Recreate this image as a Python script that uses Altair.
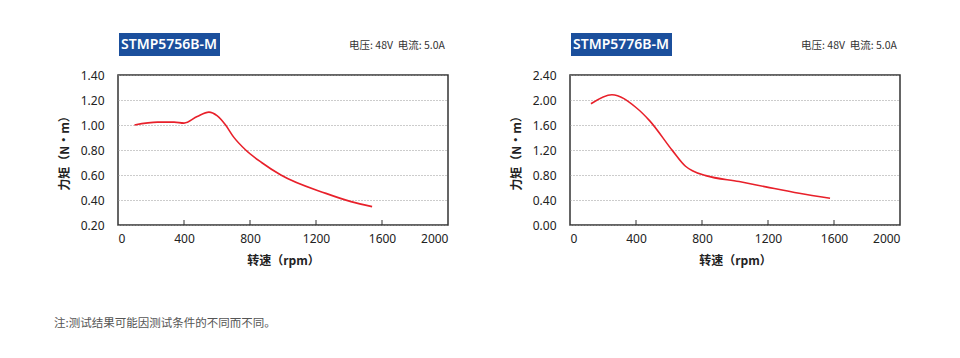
import altair as alt
import pandas as pd

# ---- data ----
left_speed = [100, 240, 340, 400, 480, 551, 600, 652, 700, 774, 870, 987, 1260, 1412, 1540]
left_torque = [1.00, 1.023, 1.023, 1.015, 1.068, 1.103, 1.075, 1.00, 0.905, 0.80, 0.70, 0.60, 0.453, 0.387, 0.347]

right_speed = [127, 254, 400, 482, 621, 700, 742, 823, 1025, 1187, 1389, 1576]
right_torque = [1.94, 2.084, 1.88, 1.67, 1.19, 0.94, 0.867, 0.79, 0.695, 0.61, 0.507, 0.427]

x_ticks = [0, 400, 800, 1200, 1600, 2000]
inner_ticks = [400, 800, 1200, 1600]
left_y_ticks = [0.20, 0.40, 0.60, 0.80, 1.00, 1.20, 1.40]
right_y_ticks = [0.00, 0.40, 0.80, 1.20, 1.60, 2.00, 2.40]

titles = ["STMP5756B-M", "STMP5776B-M"]
spec_text = "电压: 48V\u00a0\u00a0电流: 5.0A"
note_text = "注:测试结果可能因测试条件的不同而不同。"
x_title = "转速（rpm）"
y_title = "力矩（N·m）"

W, H = 330, 150
CJK = "Noto Sans CJK SC"
LAT = "Noto Sans"
RED = "#e8202a"
BLUE = "#1b4f9c"


def panel(speed, torque, yticks, title, with_note):
    df = pd.DataFrame({"speed": speed, "torque": torque})
    xs = alt.Scale(domain=[0, 2000], nice=False)
    ys = alt.Scale(domain=[yticks[0], yticks[-1]], nice=False, zero=False)
    line = alt.Chart(df).mark_line(color=RED, strokeWidth=1.6, interpolate="monotone").encode(
        x=alt.X("speed:Q", scale=xs, title=x_title,
                axis=alt.Axis(values=x_ticks, format="d", grid=False, ticks=False, domain=False,
                              labelFont=LAT, labelFontSize=12, labelColor="#222",
                              labelPadding=8, titleFont=CJK, titleFontSize=12,
                              titleFontWeight="bold", titleColor="#222", titlePadding=11)),
        y=alt.Y("torque:Q", scale=ys, title=y_title,
                axis=alt.Axis(values=yticks, format=".2f", grid=True, gridColor="#999",
                              gridDash=[1, 2], gridWidth=1, ticks=False, domain=False,
                              labelFont=LAT, labelFontSize=12, labelColor="#222",
                              labelPadding=14, titleFont=CJK, titleFontSize=12,
                              titleFontWeight="bold", titleColor="#222", titlePadding=9)),
    )
    tdf = pd.DataFrame({"speed": inner_ticks})
    ticks = alt.Chart(tdf).mark_rule(color="#333", strokeWidth=1).encode(
        x=alt.X("speed:Q", scale=xs), y=alt.value(H), y2=alt.value(H - 5))
    one = pd.DataFrame({"a": [0]})
    box = alt.Chart(one).mark_rect(color=BLUE).encode(
        x=alt.value(1), x2=alt.value(102), y=alt.value(-42), y2=alt.value(-19))
    ttl = alt.Chart(one).mark_text(text=title, color="white", font=LAT, fontSize=14,
                                   fontWeight=600, align="left", baseline="middle").encode(
        x=alt.value(3), y=alt.value(-30))
    spec = alt.Chart(one).mark_text(text=spec_text, color="#333", font=CJK, fontSize=10.5,
                                    align="right", baseline="middle").encode(
        x=alt.value(W - 3), y=alt.value(-29))
    layers = [line, ticks, box, ttl, spec]
    if with_note:
        note = alt.Chart(one).mark_text(text=note_text, color="#555", font=CJK, fontSize=11.5,
                                        align="left", baseline="middle").encode(
            x=alt.value(-64), y=alt.value(249))
        layers.append(note)
    return alt.layer(*layers).properties(width=W, height=H)


chart = alt.hconcat(
    panel(left_speed, left_torque, left_y_ticks, titles[0], True),
    panel(right_speed, right_torque, right_y_ticks, titles[1], False),
    spacing=60,
).properties(padding={"left": 45, "top": 24, "right": 5, "bottom": 5}).configure_view(
    stroke="#333", strokeWidth=1.5
)

chart.save("out.html", embed_options={"renderer": "svg", "actions": False})
